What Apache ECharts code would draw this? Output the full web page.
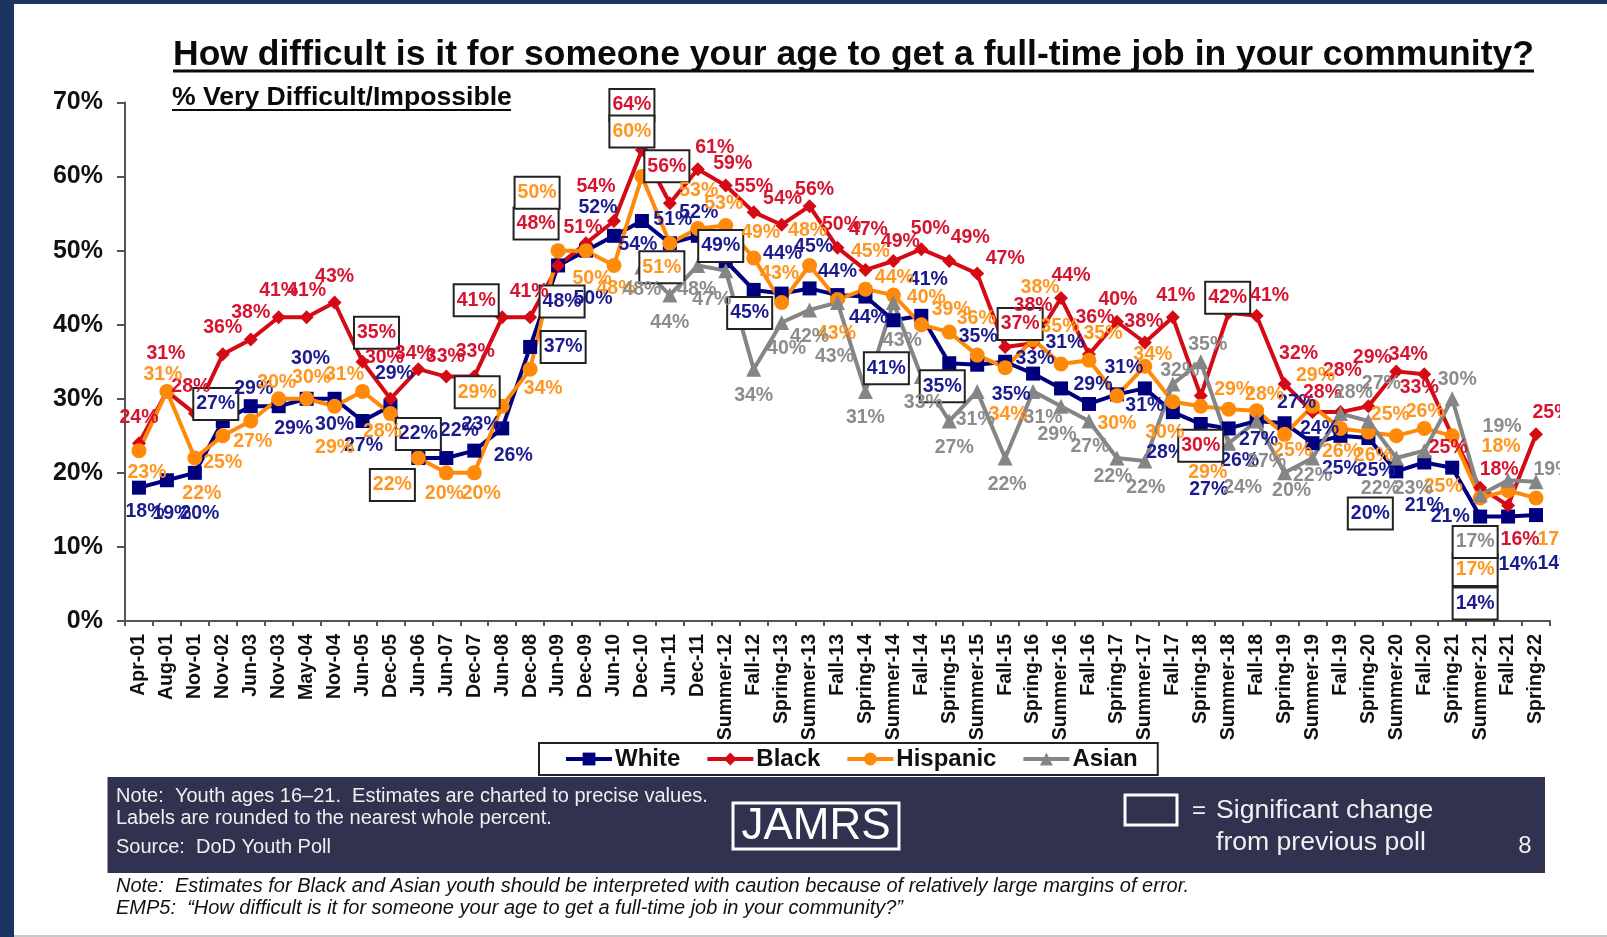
<!DOCTYPE html>
<html>
<head>
<meta charset="utf-8">
<style>
html, body { margin: 0; padding: 0; background: #fff; }
#chart { width: 1607px; height: 937px; filter: blur(0.6px); }
</style>
<script src="https://cdn.jsdelivr.net/npm/echarts@6/dist/echarts.min.js"></script>
</head>
<body>
<div id="chart"></div>
<script>
const categories = ['Apr-01','Aug-01','Nov-01','Nov-02','Jun-03','Nov-03','May-04','Nov-04','Jun-05','Dec-05','Jun-06','Jun-07','Dec-07','Jun-08','Dec-08','Jun-09','Dec-09','Jun-10','Dec-10','Jun-11','Dec-11','Summer-12','Fall-12','Spring-13','Summer-13','Fall-13','Spring-14','Summer-14','Fall-14','Spring-15','Summer-15','Fall-15','Spring-16','Summer-16','Fall-16','Spring-17','Summer-17','Fall-17','Spring-18','Summer-18','Fall-18','Spring-19','Summer-19','Fall-19','Spring-20','Summer-20','Fall-20','Spring-21','Summer-21','Fall-21','Spring-22'];

const white = [18,19,20,27,29,29,30,30,27,29,22,22,23,26,37,48,50,52,54,51,52,48.6,44.7,44.2,44.9,44,43.8,40.6,41.2,34.8,34.6,35,33.4,31.4,29.3,30.6,31.4,28.2,26.6,26,27,26.7,24,25,24.7,20.2,21.4,20.7,14.1,14.1,14.3];
const black = [24,31,28,36,38,41,41,43,35,30,34,33,33,41,41,48,51,54,63.6,56.4,61,58.8,55.2,53.5,56,50.4,47.4,48.6,50.2,48.6,46.9,37,37.5,43.6,36,40.4,37.6,41,30.4,41.6,41.2,32,28.2,28.2,29,33.7,33.3,25,18,15.6,25.2];
const hispanic = [23,31,22,25,27,30,30,29,31,28,22,20,20,29,34,50,50,48,60,51,53,53.4,49,43,48,43.4,44.8,44,40,39,35.9,34.2,38,34.7,35.2,30.4,34.4,29.6,29,28.6,28.4,25.2,29,26,25.5,25,26,25,16.6,17.6,16.6];
const asian = [null,null,null,null,null,null,null,null,null,null,null,null,null,null,null,null,null,null,47.8,44,48,47.3,34,40.3,42,43,31,43,33,27,31,22,31,29,27,22,21.6,32,35,24,27,20,22,28,27,22,23,30,17,19,18.8];

// polls with a significant change, these labels get a box
const whiteBoxed = [3,10,14,15,21,22,27,29,45,48];
const blackBoxed = [8,13,15,18,19,31,38,39];
const hispanicBoxed = [10,13,15,18,19,48];
const asianBoxed = [48];

// label position relative to its point (dx, dy per poll)
const whiteShift = [[6,24],[5,33],[5,41],[-7,-17],[3,-18],[15,22],[4,-40],[0,26],[1,25],[4,-33],[0,-24],[13,-27],[7,-26],[11,27],[33,0],[4,36],[7,48],[-16,-28],[-4,24],[3,-24],[1,-23],[-5,-15],[-4,23],[1,-40],[4,-42],[0,-23],[3,21],[-7,48],[7,-36],[-7,23],[1,-28],[6,33],[2,-15],[4,-46],[4,-19],[7,-27],[0,17],[-7,41],[8,66],[11,32],[2,19],[12,-21],[7,-15],[1,33],[8,33],[-26,42],[0,43],[-2,49],[-5,87],[10,48],[21,49]];
const blackShift = [[0,-26],[-1,-38],[-4,-27],[0,-27],[0,-27],[0,-27],[0,-27],[0,-26],[14,-29],[-6,-41],[-4,-16],[-1,-20],[1,-25],[-26,-17],[-1,-26],[-22,-42],[-3,-16],[-18,-34],[-10,-45],[-3,-37],[17,-22],[7,-22],[0,-26],[1,-26],[5,-17],[4,-23],[3,-40],[7,-19],[9,-21],[21,-23],[28,-15],[15,-23],[0,-38],[10,-22],[6,-37],[1,-22],[-1,-21],[3,-22],[0,50],[-1,-15],[13,-20],[14,-30],[10,-19],[2,-41],[4,-49],[12,-17],[-5,13],[-4,12],[19,-18],[12,34],[16,-22]];
const hispanicShift = [[8,22],[-4,-17],[7,36],[0,27],[2,21],[-2,-16],[5,-21],[0,41],[-18,-17],[-8,18],[-26,27],[-2,21],[7,21],[-25,-14],[13,19],[-21,-58],[6,28],[2,23],[-10,-45],[-8,24],[1,-38],[-2,-22],[7,-25],[-2,-29],[-2,-35],[-1,34],[5,-38],[1,-17],[5,-27],[2,-22],[-1,-36],[3,47],[7,-52],[-1,-37],[14,-27],[0,28],[8,-12],[-8,31],[7,66],[5,-20],[8,-16],[8,16],[3,-31],[1,23],[5,24],[-6,-21],[1,-17],[-9,51],[-5,72],[-7,-44],[21,42]];
const asianShift = [[0,0],[0,0],[0,0],[0,0],[0,0],[0,0],[0,0],[0,0],[0,0],[0,0],[0,0],[0,0],[0,0],[0,0],[0,0],[0,0],[0,0],[0,0],[0,23],[0,28],[-1,24],[-14,29],[0,26],[5,26],[0,27],[-3,54],[0,26],[9,38],[2,26],[5,27],[-2,28],[2,27],[10,26],[-4,28],[1,26],[-4,19],[1,27],[7,-13],[7,-17],[14,44],[10,41],[7,18],[0,18],[13,-21],[13,-37],[-16,31],[-11,38],[5,-19],[-5,47],[-6,-54],[17,-12]];

const yTicks = [0,10,20,30,40,50,60,70];

const FONT = '"Liberation Sans", Arial, sans-serif';

function buildPoints(values, shift, boxed, color) {
    return values.map((v, i) => {
        if (v === null) return { value: null };
        const isBoxed = boxed.includes(i);
        return {
            value: v,
            label: {
                show: true,
                position: 'inside',
                offset: shift[i],
                color: color,
                fontFamily: FONT,
                fontWeight: 'bold',
                fontSize: 19.5,
                formatter: Math.round(v) + '%',
                backgroundColor: isBoxed ? '#fff' : 'transparent',
                borderColor: isBoxed ? '#222' : 'transparent',
                borderWidth: isBoxed ? 2 : 0,
                padding: isBoxed ? [5, 2] : 0
            }
        };
    });
}

function makeSeries(name, values, shift, boxed, lineColor, labelColor, symbol, size) {
    return {
        name: name,
        type: 'line',
        data: buildPoints(values, shift, boxed, labelColor),
        symbol: symbol,
        symbolSize: size,
        showAllSymbol: true,
        connectNulls: false,
        lineStyle: { color: lineColor, width: 4 },
        itemStyle: { color: lineColor },
        emphasis: { disabled: true }
    };
}

function txt(text, x, y, font, fill, align) {
    return { type: 'text', z: 50, style: { text: text, x: x, y: y, font: font, fill: fill, textAlign: align || 'left', textVerticalAlign: 'middle' } };
}
function rect(x, y, w, h, fill, stroke, lw, z) {
    return { type: 'rect', z: z, shape: { x: x, y: y, width: w, height: h }, style: { fill: fill, stroke: stroke || null, lineWidth: lw || 0 } };
}
function hline(x1, x2, y, color, lw) {
    return { type: 'line', z: 50, shape: { x1: x1, y1: y, x2: x2, y2: y }, style: { stroke: color, lineWidth: lw } };
}

const chart = echarts.init(document.getElementById('chart'), null, { renderer: 'canvas' });

chart.setOption({
    animation: false,
    backgroundColor: '#fff',
    grid: { left: 125, top: 102.5, width: 1425, height: 518.5 },
    legend: {
        left: 539,
        top: 743,
        orient: 'horizontal',
        backgroundColor: '#fff',
        borderColor: '#222',
        borderWidth: 2,
        padding: [4, 20, 4, 25],
        itemWidth: 46,
        itemHeight: 16,
        itemGap: 25,
        lineStyle: { width: 4 },
        textStyle: { fontFamily: FONT, fontWeight: 'bold', fontSize: 24, color: '#111', padding: [0, 0, 0, -2] },
        data: ['White', 'Black', 'Hispanic', 'Asian']
    },
    xAxis: {
        type: 'category',
        data: categories,
        boundaryGap: true,
        axisLine: { lineStyle: { color: '#555', width: 2 } },
        axisTick: { show: true, length: 5, lineStyle: { color: '#555', width: 2 } },
        axisLabel: { interval: 0, rotate: 90, margin: 13, fontFamily: FONT, fontWeight: 'bold', fontSize: 19.5, color: '#111' }
    },
    yAxis: {
        type: 'value',
        min: yTicks[0],
        max: yTicks[yTicks.length - 1],
        interval: 10,
        splitLine: { show: false },
        axisLine: { show: true, lineStyle: { color: '#555', width: 2 } },
        axisTick: { show: true, length: 8, lineStyle: { color: '#555', width: 2 } },
        axisLabel: { margin: 22, padding: [3, 0, 0, 0], fontFamily: FONT, fontWeight: 'bold', fontSize: 25, color: '#111', formatter: '{value}%' }
    },
    series: [
        makeSeries('White', white, whiteShift, whiteBoxed, '#00007f', '#1b1b8f', 'rect', 14),
        makeSeries('Black', black, blackShift, blackBoxed, '#d40a14', '#d7132f', 'diamond', 14),
        makeSeries('Hispanic', hispanic, hispanicShift, hispanicBoxed, '#ff8a0a', '#ff9620', 'circle', 15),
        makeSeries('Asian', asian, asianShift, asianBoxed, '#858585', '#8c8c8c', 'triangle', 15)
    ],
    graphic: [
        // slide frame
        rect(0, 0, 14, 937, '#1c3560', null, 0, 60),
        rect(0, 0, 1607, 4, '#1c3560', null, 0, 60),
        rect(14, 935, 1593, 2, '#c8c8c8', null, 0, 60),
        // the slide crops the labels on both sides
        rect(14, 85, 39, 535, '#fff', null, 0, 40),
        rect(1560, 300, 47, 330, '#fff', null, 0, 40),
        // headings
        txt('How difficult is it for someone your age to get a full-time job in your community?', 173, 55, 'bold 35.5px ' + FONT, '#0a0a0a'),
        hline(173, 1534, 71, '#0a0a0a', 3),
        txt('% Very Difficult/Impossible', 172, 98, 'bold 26.6px ' + FONT, '#0a0a0a'),
        hline(172, 511, 110, '#0a0a0a', 2),
        // note panel
        rect(107.5, 777, 1437.5, 96, '#30324f', null, 0, 45),
        txt('Note:  Youth ages 16\u201321.  Estimates are charted to precise values.', 116, 796, '20px ' + FONT, '#f0f0f0'),
        txt('Labels are rounded to the nearest whole percent.', 116, 818, '20px ' + FONT, '#f0f0f0'),
        txt('Source:  DoD Youth Poll', 116, 847, '20px ' + FONT, '#f0f0f0'),
        rect(733, 803, 166, 46, 'transparent', '#fff', 3, 50),
        txt('JAMRS', 816, 827, '44px ' + FONT, '#fff', 'center'),
        rect(1125, 795, 52, 30, 'transparent', '#fff', 3, 50),
        txt('=', 1199, 811, '24px ' + FONT, '#f0f0f0', 'center'),
        txt('Significant change', 1216, 811, '26.6px ' + FONT, '#f0f0f0'),
        txt('from previous poll', 1216, 843, '26.6px ' + FONT, '#f0f0f0'),
        txt('8', 1525, 846, '24px ' + FONT, '#f0f0f0', 'center'),
        // footnotes
        txt('Note:  Estimates for Black and Asian youth should be interpreted with caution because of relatively large margins of error.', 116, 886, 'italic 20px ' + FONT, '#111'),
        txt('EMP5:  \u201cHow difficult is it for someone your age to get a full-time job in your community?\u201d', 116, 908, 'italic 20px ' + FONT, '#111')
    ]
});
</script>
</body>
</html>
